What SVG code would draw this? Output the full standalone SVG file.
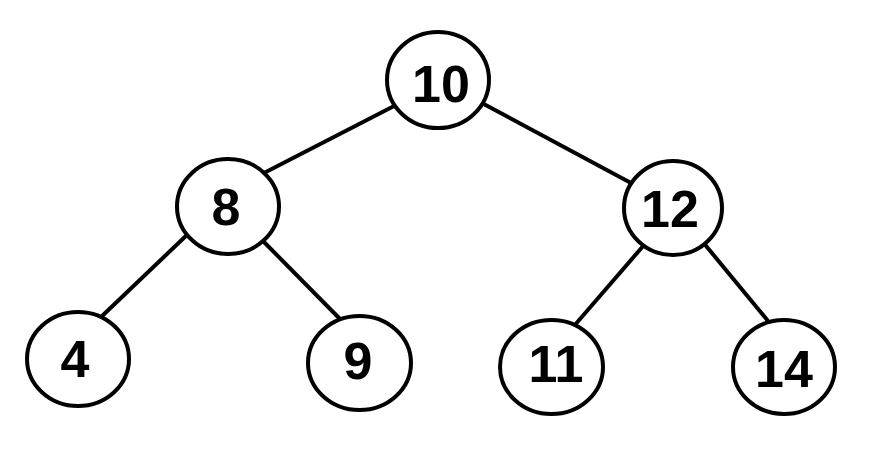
<svg xmlns="http://www.w3.org/2000/svg" width="879" height="455" viewBox="0 0 879 455">
<style>
.node ellipse{fill:#fff;stroke:#000;stroke-width:4}
.node text{font-family:"Liberation Sans",Arial,sans-serif;font-weight:bold;font-size:52px;text-anchor:middle;fill:#000}
#edges line{stroke:#000;stroke-width:4}
</style>
<rect width="879" height="455" fill="#fff"/>
<g id="edges">
<line x1="398" y1="104" x2="262" y2="174"/>
<line x1="480" y1="102" x2="631" y2="183"/>
<line x1="189" y1="233" x2="100" y2="318"/>
<line x1="262" y1="240" x2="341" y2="320"/>
<line x1="644" y1="245" x2="574" y2="326"/>
<line x1="702" y1="241" x2="768" y2="321"/>
</g>
<g id="n10" class="node"><ellipse cx="438" cy="80" rx="51" ry="48"/><text x="441" y="102">10</text></g>
<g id="n8" class="node"><ellipse cx="228" cy="206.5" rx="51" ry="47.5"/><text x="226" y="225">8</text></g>
<g id="n12" class="node"><ellipse cx="673" cy="208" rx="49" ry="47"/><text x="670" y="227">12</text></g>
<g id="n4" class="node"><ellipse cx="78" cy="359" rx="51" ry="47"/><text x="75" y="377">4</text></g>
<g id="n9" class="node"><ellipse cx="359.5" cy="363" rx="51.5" ry="47"/><text x="358" y="379">9</text></g>
<g id="n11" class="node"><ellipse cx="551.5" cy="367" rx="51.5" ry="47"/><text x="556" y="382">11</text></g>
<g id="n14" class="node"><ellipse cx="784" cy="367" rx="51" ry="47"/><text x="784" y="387">14</text></g>
</svg>
